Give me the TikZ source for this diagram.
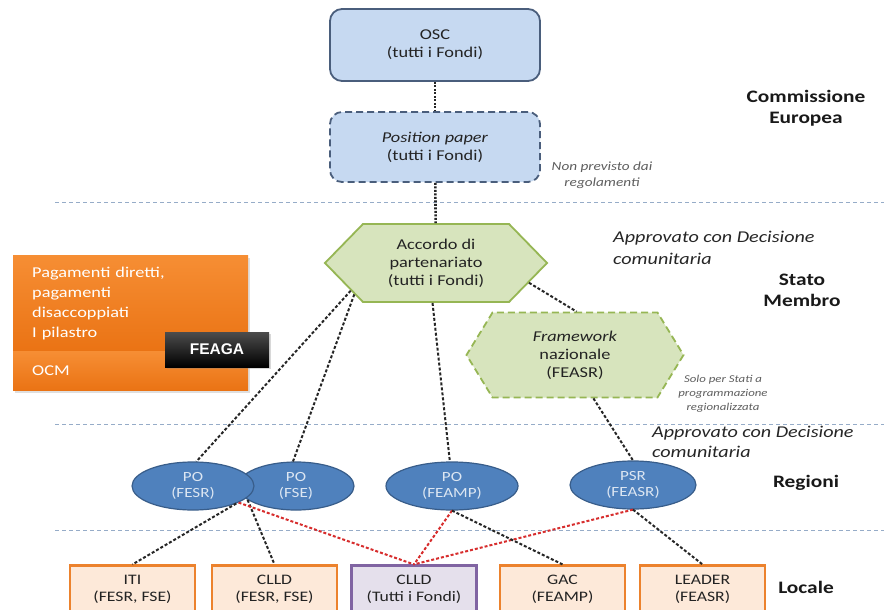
\documentclass[tikz,border=0pt]{standalone}
\usepackage{fontspec}
\setmainfont[FakeStretch=1.22]{Carlito}
\newfontfamily\arialfont{Liberation Sans}
\usetikzlibrary{shapes.symbols,shapes.geometric,shadows}
\definecolor{bluefill}{RGB}{198,217,241}
\definecolor{blueline}{RGB}{74,94,124}
\definecolor{hexfill}{RGB}{215,228,189}
\definecolor{hexline}{RGB}{150,182,84}
\definecolor{ellfill}{RGB}{79,129,189}
\definecolor{ellline}{RGB}{56,93,138}
\definecolor{elltext}{RGB}{220,230,242}
\definecolor{peach}{RGB}{253,233,217}
\definecolor{peachline}{RGB}{236,130,45}
\definecolor{lilac}{RGB}{229,224,236}
\definecolor{lilacline}{RGB}{128,100,162}
\definecolor{sepcol}{RGB}{150,172,200}
\definecolor{redcon}{RGB}{215,45,45}
\definecolor{notegray}{RGB}{95,95,95}
\definecolor{orangetop}{RGB}{246,142,52}
\definecolor{orangebot}{RGB}{234,115,20}
\definecolor{txt}{RGB}{35,35,35}
\tikzset{
  boxfont/.style={font=\fontsize{15}{18}\selectfont, text=txt},
  bluebox/.style={boxfont, rectangle, rounded corners=12pt, fill=bluefill, draw=blueline, line width=1.8pt, align=center, minimum width=210pt},
  hexa/.style={boxfont, shape=signal, signal to=west and east, fill=hexfill, draw=hexline, line width=1.8pt, align=center, inner sep=2pt},
  ellnode/.style={ellipse, fill=ellfill, draw=ellline, line width=1.2pt, text=elltext, font=\fontsize{14}{16}\selectfont, align=center, minimum width=122pt, minimum height=48pt, inner sep=0pt},
  locbox/.style={boxfont, font=\fontsize{14.5}{17}\selectfont, rectangle, fill=peach, draw=peachline, line width=2.2pt, align=center, minimum width=125pt, minimum height=47pt},
  orangebox/.style={rectangle, top color=orangetop, bottom color=orangebot, text=white, font=\fontsize{15}{20}\selectfont, align=left, text width=197pt, inner xsep=19pt, anchor=north west, minimum width=235pt, drop shadow={opacity=0.25, shadow xshift=2pt, shadow yshift=-3pt}},
  feagabox/.style={rectangle, top color=black!70, bottom color=black, text=white, font=\arialfont\bfseries\fontsize{15.5}{18}\selectfont, minimum width=104pt, minimum height=35pt, drop shadow={opacity=0.3, shadow xshift=2pt, shadow yshift=-2pt}},
  levellabel/.style={font=\bfseries\fontsize{17.5}{21}\selectfont, text=black!90, align=center},
  notelabel/.style={font=\itshape\fontsize{12.5}{16}\selectfont, text=notegray, align=center},
  approvlabel/.style={font=\itshape\fontsize{16.5}{22}\selectfont, text=black!85, align=left, anchor=west, inner sep=0pt},
  sepline/.style={draw=sepcol, line width=1pt, dash pattern=on 4pt off 3pt},
  blackcon/.style={draw=black!85, line width=2pt, dash pattern=on 3pt off 2pt},
  dotcon/.style={draw=black!85, line width=2.6pt, dash pattern=on 2pt off 1.5pt},
  redcon/.style={draw=redcon, line width=2pt, dash pattern=on 3pt off 2pt}
}
\begin{document}
\begin{tikzpicture}[x=1pt,y=-1pt]
\useasboundingbox (0,0) rectangle (884,610);
\fill[white] (0,0) rectangle (884,610);

% separators
\draw[sepline] (55,202) -- (884,202);
\draw[sepline] (55,424) -- (884,424);
\draw[sepline] (55,530) -- (884,530);

% orange FEAGA block
\node[orangebox, minimum height=96pt] (pag) at (13,255) {Pagamenti diretti,\\pagamenti\\disaccoppiati\\I pilastro};
\node[orangebox, minimum height=39pt, drop shadow={opacity=0}] (ocm) at (13,351) {OCM};
\node[feagabox] (feaga) at (217,349.5) {FEAGA};

% upper nodes
\node[bluebox, minimum height=72pt] (osc) at (435,45) {OSC\\(tutti i Fondi)};
\node[bluebox, minimum height=70pt, dash pattern=on 7pt off 4pt] (pp) at (435,147) {\textit{Position paper}\\(tutti i Fondi)};
\node[hexa, minimum width=222pt, minimum height=78pt, signal pointer angle=91.5] (acc) at (436,263) {Accordo di\\partenariato\\(tutti i Fondi)};
\node[hexa, minimum width=217pt, minimum height=85pt, signal pointer angle=117, dash pattern=on 7pt off 4pt] (fw) at (575,355) {\textit{Framework}\\nazionale\\(FEASR)};

% regional ellipses
\node[ellnode, minimum width=116pt] (fse) at (296,486) {PO\\(FSE)};
\node[ellnode] (fesr) at (193,486) {PO\\(FESR)};
\node[ellnode, minimum width=132pt] (feamp) at (452,486) {PO\\(FEAMP)};
\node[ellnode, minimum width=126pt] (psr) at (633,485) {PSR\\(FEASR)};

% local boxes
\node[locbox] (iti) at (132.5,589) {ITI\\(FESR, FSE)};
\node[locbox] (clldA) at (274.5,589) {CLLD\\(FESR, FSE)};
\node[locbox, fill=lilac, draw=lilacline] (clldB) at (414,589) {CLLD\\(Tutti i Fondi)};
\node[locbox] (gac) at (562.5,589) {GAC\\(FEAMP)};
\node[locbox] (leader) at (702.5,589) {LEADER\\(FEASR)};

% connectors
\draw[dotcon] (osc) -- (pp);
\draw[dotcon] (pp) -- (acc);
\draw[blackcon] (acc.198) -- (fesr.82);
\draw[blackcon] (acc.201) -- (fse.97);
\draw[blackcon] (acc.265) -- (feamp.95);
\draw[blackcon] (acc.-12) -- (fw.88);
\draw[blackcon] (fw.-67) -- (psr.north);
\draw[blackcon] (fesr.-22) -- (iti.north);
\draw[blackcon] (fse.196) -- (clldA.north);
\draw[redcon] (fesr.-20) -- (clldB.north);
\draw[redcon] (feamp.-90) -- (clldB.north);
\draw[redcon] (psr.-90) -- (clldB.north);
\draw[blackcon] (feamp.-90) -- (gac.north);
\draw[blackcon] (psr.-90) -- (leader.north);

% labels
\node[levellabel] (ce) at (806,108) {Commissione\\Europea};
\node[levellabel] (sm) at (802,290) {Stato\\Membro};
\node[levellabel] (reg) at (806,483) {Regioni};
\node[levellabel] (loc) at (806,587) {Locale};
\node[notelabel] (np) at (602,175) {Non previsto dai\\regolamenti};
\node[notelabel, font=\itshape\fontsize{10.5}{14}\selectfont] (solo) at (723,394) {Solo per Stati a\\programmazione\\regionalizzata};
\node[approvlabel] (ap1) at (613,248) {Approvato con Decisione\\comunitaria};
\node[approvlabel, font=\itshape\fontsize{16.5}{20}\selectfont] (ap2) at (652,442) {Approvato con Decisione\\comunitaria};
\end{tikzpicture}
\end{document}
